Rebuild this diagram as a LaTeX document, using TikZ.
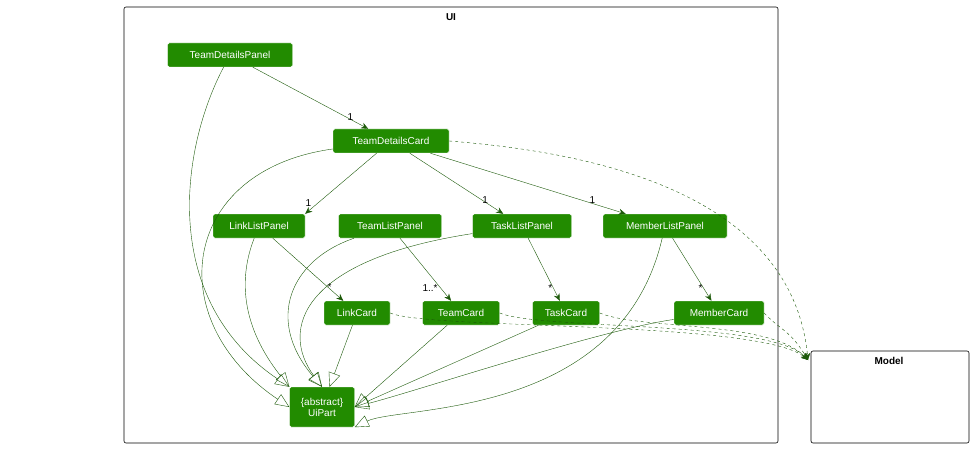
\documentclass[tikz,border=0pt]{standalone}
\usepackage{fontspec}
\setmainfont{Liberation Sans}
\usetikzlibrary{arrows.meta}
\definecolor{boxg}{HTML}{228B00}
\definecolor{lineg}{HTML}{1D5A0A}
\begin{document}
\begin{tikzpicture}[x=1pt,y=-1pt,
  cls/.style={fill=boxg,draw=white,rounded corners=1.5pt,text=white,font=\fontsize{10}{11}\selectfont,inner sep=2pt,minimum height=24pt,align=center},
  assoc/.style={draw=lineg,-{Stealth[length=7pt,width=6pt]}},
  dep/.style={draw=lineg,dashed,-{Stealth[length=7pt,width=6pt]}},
  gen/.style={draw=lineg,-{Triangle[open,length=14pt,width=12pt]}},
  lbl/.style={font=\fontsize{10}{11}\selectfont,inner sep=1pt},
  pkg/.style={draw=black,rounded corners=2pt,line width=0.6pt}]
\useasboundingbox (0,0) rectangle (973,449);
\draw[pkg] (124,7) rectangle (778,443);
\node[font=\bfseries\fontsize{10}{11}\selectfont] (uit) at (451,17) {UI};
\draw[pkg] (811,351) rectangle (969,443);
\node[font=\bfseries\fontsize{10}{11}\selectfont] (mt) at (889,361) {Model};
\coordinate (model) at (808,360);
\node[cls,minimum width=125pt] (tdp) at (230,55) {TeamDetailsPanel};
\node[cls,minimum width=116pt] (tdc) at (391,141) {TeamDetailsCard};
\node[cls,minimum width=92pt] (llp) at (259,226) {LinkListPanel};
\node[cls,minimum width=103pt] (tlp) at (390,226) {TeamListPanel};
\node[cls,minimum width=99pt] (tkp) at (522,226) {TaskListPanel};
\node[cls,minimum width=124pt] (mlp) at (665,226) {MemberListPanel};
\node[cls,minimum width=66pt] (lc) at (357,313) {LinkCard};
\node[cls,minimum width=77pt] (tc) at (461,313) {TeamCard};
\node[cls,minimum width=67pt] (kc) at (566,313) {TaskCard};
\node[cls,minimum width=90pt] (mc) at (719,313) {MemberCard};
\node[cls,minimum width=65pt,minimum height=40pt,inner sep=1pt] (ui) at (322,407) {\{abstract\}\\UiPart};
% associations
\draw[assoc] (tdp) -- (tdc) node[lbl,pos=0.88,above left] {1};
\draw[assoc] (tdc) -- (llp.north east) node[lbl,pos=0.9,above left] {1};
\draw[assoc] (tdc) -- (tkp) node[lbl,pos=0.85,above left] {1};
\draw[assoc] (tdc) -- (mlp) node[lbl,pos=0.85,above left] {1};
\draw[assoc] (llp) -- (lc) node[lbl,pos=0.85,above left] {*};
\draw[assoc] (tlp) -- (tc) node[lbl,pos=0.8,left=2pt] {1..*};
\draw[assoc] (tkp) -- (kc) node[lbl,pos=0.8,left] {*};
\draw[assoc] (mlp) -- (mc) node[lbl,pos=0.8,left] {*};
% dependencies
\draw[dep] (tdc.east) .. controls (560,150) and (790,180) .. (model);
\draw[dep] (lc.east) .. controls (430,330) and (760,320) .. (model);
\draw[dep] (tc.east) .. controls (540,330) and (770,320) .. (model);
\draw[dep] (kc.east) .. controls (640,330) and (770,320) .. (model);
\draw[dep] (mc.east) .. controls (780,330) and (790,330) .. (model);
% generalizations
\draw[gen] (tdp) .. controls (180,150) and (160,300) .. (ui.north west);
\draw[gen] (tdc) .. controls (180,170) and (160,320) .. (ui.west);
\draw[gen] (llp) .. controls (230,300) and (260,350) .. (ui.north west);
\draw[gen] (tlp) .. controls (290,260) and (265,320) .. (ui.north);
\draw[gen] (tkp) .. controls (300,260) and (280,330) .. (ui.north);
\draw[gen] (lc) -- (ui);
\draw[gen] (tc) -- (ui.east);
\draw[gen] (kc) -- (ui.east);
\draw[gen] (mc) .. controls (600,330) and (420,390) .. (ui.east);
\draw[gen] (mlp) .. controls (620,420) and (400,405) .. (ui.south east);
\end{tikzpicture}
\end{document}
